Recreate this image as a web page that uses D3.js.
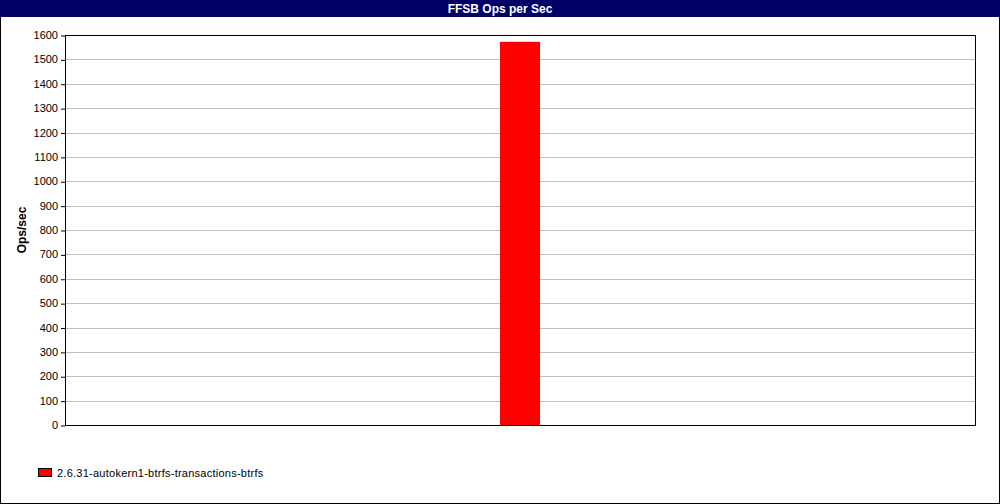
<!DOCTYPE html>
<html>
<head>
<meta charset="utf-8">
<script src="https://cdn.jsdelivr.net/npm/d3@7"></script>
<style>
  body { margin: 0; background: #fff; }
  svg { display: block; font-family: "Liberation Sans", Arial, sans-serif; }
</style>
</head>
<body>
<div id="chart"></div>
<script>
const categories = ['2.6.31-autokern1-btrfs-transactions-btrfs'];
const opsPerSec = [1572];
const yTicks = [0, 100, 200, 300, 400, 500, 600, 700, 800, 900, 1000, 1100, 1200, 1300, 1400, 1500, 1600];

const width = 1000;
const height = 504;
const margin = { top: 35, right: 25, bottom: 79, left: 65 };
const innerW = width - margin.left - margin.right;
const innerH = height - margin.top - margin.bottom;

const svg = d3.select('#chart')
  .append('svg')
  .attr('width', width)
  .attr('height', height);

svg.append('rect')
  .attr('x', 0.5).attr('y', 0.5)
  .attr('width', width - 1).attr('height', height - 1)
  .attr('fill', '#fff')
  .attr('stroke', '#000');

// title bar
svg.append('rect')
  .attr('x', 0).attr('y', 0)
  .attr('width', width).attr('height', 17)
  .attr('fill', '#000066');
svg.append('text')
  .attr('x', width / 2).attr('y', 13)
  .attr('text-anchor', 'middle')
  .attr('fill', '#fff')
  .attr('font-weight', 'bold')
  .attr('font-size', 12)
  .text('FFSB Ops per Sec');

const x = d3.scaleBand()
  .domain(categories)
  .range([0, innerW]);
const y = d3.scaleLinear()
  .domain([0, 1600])
  .range([innerH, 0]);

const g = svg.append('g')
  .attr('transform', `translate(${margin.left},${margin.top})`);

// grid
g.selectAll('.grid')
  .data(yTicks.filter(d => d > 0 && d < 1600))
  .enter()
  .append('line')
  .attr('x1', 0).attr('x2', innerW)
  .attr('y1', d => Math.round(y(d)) + 0.5)
  .attr('y2', d => Math.round(y(d)) + 0.5)
  .attr('stroke', '#c0c0c0');

const barW = 40;
g.selectAll('.bar')
  .data(opsPerSec)
  .enter()
  .append('rect')
  .attr('x', (d, i) => x(categories[i]) + x.bandwidth() / 2 - barW / 2)
  .attr('y', d => y(d))
  .attr('width', barW)
  .attr('height', d => innerH - y(d))
  .attr('fill', '#ff0000');

g.append('rect')
  .attr('x', 0.5).attr('y', 0.5)
  .attr('width', innerW).attr('height', innerH)
  .attr('fill', 'none')
  .attr('stroke', '#000');

const yAxis = g.append('g')
  .call(d3.axisLeft(y).tickValues(yTicks).tickSize(4).tickPadding(3).tickFormat(d3.format('d')));
yAxis.select('.domain').remove();
yAxis.selectAll('line').attr('stroke', '#000').attr('transform', 'translate(0,0.5)');
yAxis.selectAll('text')
  .attr('font-size', 11)
  .attr('font-family', '"Liberation Sans", Arial, sans-serif')
  .attr('fill', '#000');

svg.append('text')
  .attr('transform', `translate(26,${margin.top + innerH / 2}) rotate(-90)`)
  .attr('text-anchor', 'middle')
  .attr('font-weight', 'bold')
  .attr('font-size', 12)
  .text('Ops/sec');

// legend
const legend = svg.selectAll('.legend')
  .data(categories)
  .enter()
  .append('g')
  .attr('transform', (d, i) => `translate(38,${468 + i * 14})`);
legend.append('rect')
  .attr('x', 0.5).attr('y', 0.5)
  .attr('width', 13).attr('height', 8)
  .attr('fill', '#ff0000')
  .attr('stroke', '#000');
legend.append('text')
  .attr('x', 19).attr('y', 9)
  .attr('font-size', 11)
  .attr('letter-spacing', 0.25)
  .text(d => d);
</script>
</body>
</html>
